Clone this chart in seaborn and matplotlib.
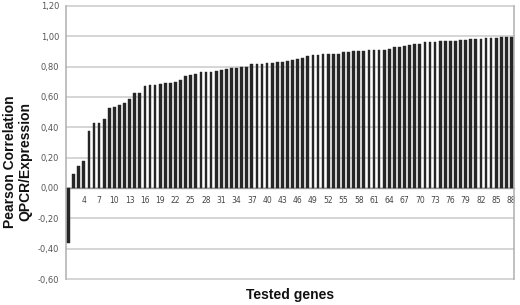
import matplotlib
matplotlib.use("Agg")
import matplotlib.pyplot as plt
import seaborn as sns
import pandas as pd

genes = [str(i) for i in range(1, 89)]
correlation = [
    -0.36, 0.09, 0.143, 0.178, 0.378, 0.426, 0.428, 0.453, 0.53, 0.532,
    0.547, 0.558, 0.589, 0.624, 0.625, 0.675, 0.677, 0.681, 0.683, 0.692,
    0.694, 0.699, 0.712, 0.738, 0.745, 0.749, 0.762, 0.763, 0.767, 0.771,
    0.776, 0.784, 0.788, 0.789, 0.795, 0.797, 0.818, 0.819, 0.82, 0.821,
    0.825, 0.83, 0.832, 0.835, 0.842, 0.85, 0.859, 0.869, 0.874, 0.879,
    0.882, 0.883, 0.884, 0.885, 0.894, 0.895, 0.9, 0.901, 0.905, 0.909,
    0.911, 0.912, 0.913, 0.914, 0.928, 0.932, 0.935, 0.943, 0.947, 0.951,
    0.961, 0.963, 0.964, 0.968, 0.969, 0.97, 0.971, 0.973, 0.977, 0.98,
    0.981, 0.982, 0.986, 0.99, 0.992, 0.993, 0.995, 0.997,
]
xtick_labels = [str(i) for i in range(4, 89, 3)]
ytick_values = [-0.6, -0.4, -0.2, 0.0, 0.2, 0.4, 0.6, 0.8, 1.0, 1.2]
ytick_labels = ["-0,60", "-0,40", "-0,20", "0,00", "0,20", "0,40", "0,60", "0,80", "1,00", "1,20"]

df = pd.DataFrame({"gene": genes, "corr": correlation})

sns.set_theme(style="white")
plt.rcParams["font.family"] = ["DejaVu Sans"]

fig = plt.figure(figsize=(5.2, 3.05), dpi=100)
ax = fig.add_axes([66 / 520, 1 - 279 / 305, (514 - 66) / 520, (279 - 6) / 305])

sns.barplot(data=df, x="gene", y="corr", order=genes, color="#262626",
            width=0.55, saturation=1, edgecolor="#262626", linewidth=0.3,
            ax=ax, zorder=3)

ax.set_xlim(-0.5, len(genes) - 0.5)
ax.set_ylim(-0.6, 1.2)

for v in ytick_values:
    ax.axhline(v, color="#d2d2d2", lw=1.3, zorder=1, clip_on=False)

ax.set_yticks(ytick_values)
ax.set_yticklabels(ytick_labels)
pos = [genes.index(l) for l in xtick_labels]
ax.set_xticks(pos)
ax.set_xticklabels(xtick_labels)
ax.tick_params(axis="both", length=0)
ax.tick_params(axis="y", pad=5, labelsize=6, labelcolor="#555555")
ax.tick_params(axis="x", pad=6, labelsize=5.5, labelcolor="#444444")

ax.spines["bottom"].set_position(("data", 0))
ax.spines["bottom"].set_color("#9a9a9a")
ax.spines["bottom"].set_linewidth(1.0)
ax.spines["bottom"].set_zorder(2)
for s in ["left", "top", "right"]:
    ax.spines[s].set_color("#b5b5b5")
    ax.spines[s].set_linewidth(1.2)
ax.spines["top"].set_visible(False)

ax.set_xlabel("")
ax.set_ylabel("")
fig.text(0.034, 0.47, "Pearson Correlation\nQPCR/Expression", rotation=90,
         ha="center", va="center", fontsize=10, fontweight="bold",
         family="Liberation Sans", linespacing=1.15, color="#111111")
fig.text(0.557, 1 - 295 / 305, "Tested genes", ha="center", va="center",
         fontsize=10, fontweight="bold", family="Liberation Sans", color="#111111")

fig.savefig("out.png", dpi=100)
